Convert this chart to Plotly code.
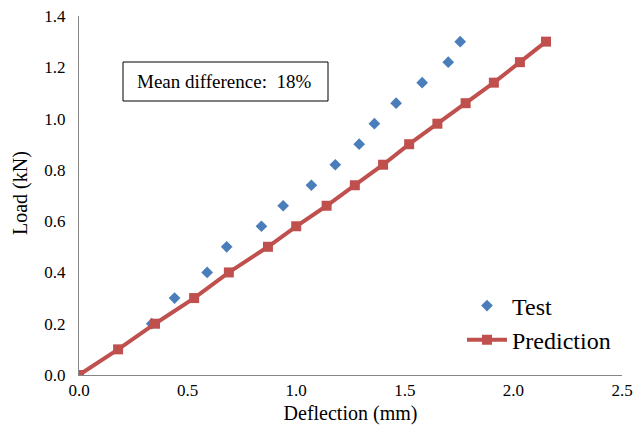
import plotly.graph_objects as go

# Data
test_x = [0.335, 0.44, 0.59, 0.68, 0.84, 0.94, 1.07, 1.18, 1.29, 1.36, 1.46, 1.58, 1.70, 1.755]
test_y = [0.2, 0.3, 0.4, 0.5, 0.58, 0.66, 0.74, 0.82, 0.9, 0.98, 1.06, 1.14, 1.22, 1.3]

pred_x = [0.0, 0.18, 0.35, 0.53, 0.69, 0.87, 1.0, 1.14, 1.27, 1.40, 1.52, 1.65, 1.78, 1.91, 2.03, 2.15]
pred_y = [0.0, 0.1, 0.2, 0.3, 0.4, 0.5, 0.58, 0.66, 0.74, 0.82, 0.9, 0.98, 1.06, 1.14, 1.22, 1.3]

x_ticks = [0.0, 0.5, 1.0, 1.5, 2.0, 2.5]
y_ticks = [0.0, 0.2, 0.4, 0.6, 0.8, 1.0, 1.2, 1.4]

FONT = "Times New Roman, Liberation Serif, serif"

fig = go.Figure()
fig.add_trace(go.Scatter(
    x=test_x, y=test_y, mode="markers", name="Test", legendgroup="a",
    marker=dict(symbol="diamond", size=9, color="#4A7EBB"),
))
fig.add_trace(go.Scatter(
    x=pred_x, y=pred_y, mode="lines+markers", name="Prediction", legendgroup="b",
    line=dict(color="#C0504D", width=4),
    marker=dict(symbol="square", size=10, color="#C0504D"),
))

fig.update_layout(
    width=636, height=435,
    margin=dict(l=79, r=14, t=16, b=60),
    paper_bgcolor="white", plot_bgcolor="white",
    font=dict(family=FONT, color="black", size=17),
    showlegend=True,
    legend=dict(
        x=(462 - 79) / 543, y=0.255, xanchor="left", yanchor="top",
        font=dict(family=FONT, size=24, color="black"),
        bgcolor="rgba(0,0,0,0)", tracegroupgap=0, itemwidth=40,
    ),
    xaxis=dict(
        range=[0, 2.5], tickvals=x_ticks, tickformat=".1f", automargin=False,
        showgrid=False, zeroline=False, showline=True, linecolor="#868686", linewidth=1,
        ticks="", tickfont=dict(family=FONT, size=17),
        title=dict(text="Deflection (mm)", font=dict(family=FONT, size=20), standoff=6),
    ),
    yaxis=dict(
        range=[0, 1.4], tickvals=y_ticks, tickformat=".1f", automargin=False,
        showgrid=False, zeroline=False, showline=True, linecolor="#868686", linewidth=1,
        ticks="", tickfont=dict(family=FONT, size=17), ticklabelstandoff=9,
    ),
    shapes=[dict(
        type="rect", xref="paper", yref="paper",
        x0=(123 - 79) / 543, x1=(328 - 79) / 543,
        y0=(375 - 101) / 359, y1=(375 - 62) / 359,
        line=dict(color="black", width=1), fillcolor="white", layer="above",
    )],
    annotations=[
        dict(
            xref="paper", yref="paper",
            x=(224 - 79) / 543, y=(375 - 81.5) / 359,
            text="Mean difference:  18%", showarrow=False,
            font=dict(family=FONT, size=19, color="black"),
            xanchor="center", yanchor="middle",
        ),
        dict(
            xref="paper", yref="paper",
            x=(20 - 79) / 543, y=(375 - 193) / 359,
            text="Load (kN)", showarrow=False, textangle=-90,
            font=dict(family=FONT, size=20, color="black"),
            xanchor="center", yanchor="middle",
        ),
    ],
)

fig.write_html("out.html")
